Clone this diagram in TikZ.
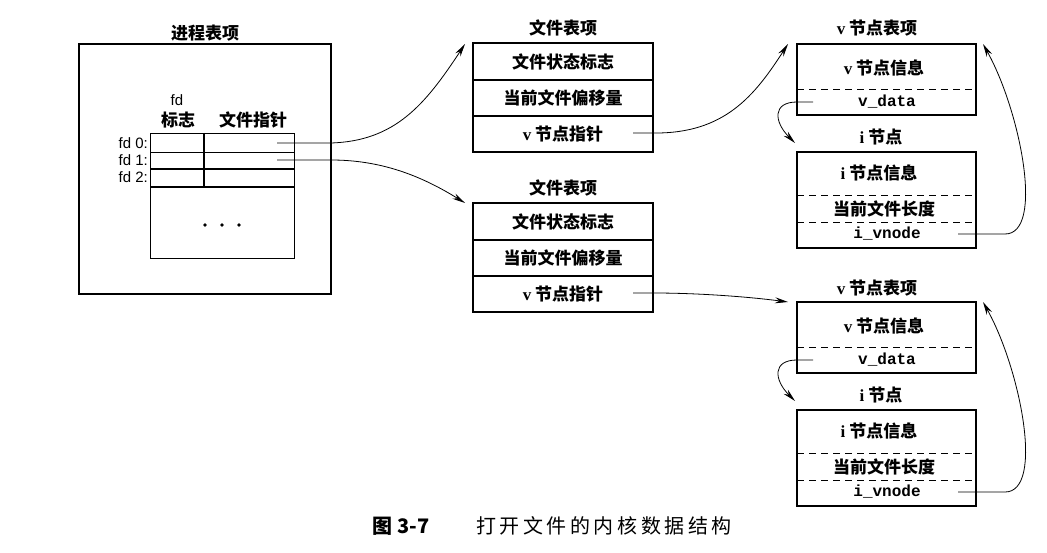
\documentclass[tikz,border=0pt]{standalone}
\usepackage{fontspec}
\setmainfont{Liberation Sans}
\newfontfamily\cjk{Noto Sans CJK SC}
\newfontfamily\capfont[LetterSpace=18]{Noto Sans CJK SC}
\newfontfamily\monof{Liberation Mono}
\newfontfamily\serf{Liberation Serif}
\usetikzlibrary{arrows.meta}
\tikzset{
  cjkfont/.style={font=\cjk\bfseries\fontsize{17}{20}\selectfont},
  row/.style={draw, line width=1.1pt, inner sep=0pt, outer sep=0pt, anchor=north west,
    minimum width=180pt, cjkfont},
  frame/.style={draw, line width=1.1pt, inner sep=0pt, outer sep=0pt, anchor=north west},
  lbl/.style={inner sep=0pt, cjkfont},
  code/.style={inner sep=0pt, font=\monof\bfseries\fontsize{16}{18}\selectfont},
  fdl/.style={inner sep=0pt, font=\fontsize{15}{17}\selectfont},
  dsh/.style={line width=0.9pt, dash pattern=on 7pt off 5pt},
  thinline/.style={line width=0.7pt},
  arr/.style={line width=0.8pt, -{Stealth[length=13pt,width=6pt]}},
}
\begin{document}
\begin{tikzpicture}[x=1pt,y=-1pt]
\useasboundingbox (0,0) rectangle (1047,553);

% ---------------- process table ----------------
\node[lbl] (proct) at (205,33) {进程表项};
\node[frame, minimum width=252pt, minimum height=250pt] (proc) at (79,44) {};
\node[fdl] (hfd) at (177,100) {fd};
\node[lbl] (hflag) at (178,120) {标志};
\node[lbl] (hptr) at (253,120) {文件指针};
\node[draw, thinline, inner sep=0pt, outer sep=0pt, anchor=north west,
      minimum width=144pt, minimum height=125pt] (fdtab) at (150,133) {};
\draw[thinline] (150,152) -- (294,152);
\draw[line width=1.1pt] (150,169) -- (294,169);
\draw[line width=1.1pt] (150,187) -- (294,187);
\draw[line width=1.1pt] (204,133) -- (204,187);
\node[fdl, anchor=east] (fd0) at (148,143) {fd 0:};
\node[fdl, anchor=east] (fd1) at (148,160) {fd 1:};
\node[fdl, anchor=east] (fd2) at (148,177) {fd 2:};
\fill (205,225) circle (1.8pt) (222,225) circle (1.8pt) (239,225) circle (1.8pt);
\coordinate (p0) at (277,143);
\coordinate (p1) at (277,160);

% ---------------- file table 1 ----------------
\node[lbl] (f1t) at (563,28) {文件表项};
\node[row, minimum height=37pt] (f1a) at (473,43) {文件状态标志};
\node[row, minimum height=36pt] (f1b) at (473,80) {当前文件偏移量};
\node[row, minimum height=36pt] (f1c) at (473,116) {{\serf v} 节点指针};
\coordinate (f1p) at (633,133);
\coordinate (f1in) at (465,44);

% ---------------- file table 2 ----------------
\node[lbl] (f2t) at (563,188) {文件表项};
\node[row, minimum height=37pt] (f2a) at (473,203) {文件状态标志};
\node[row, minimum height=36pt] (f2b) at (473,240) {当前文件偏移量};
\node[row, minimum height=36pt] (f2c) at (473,276) {{\serf v} 节点指针};
\coordinate (f2p) at (633,293);
\coordinate (f2in) at (465,203);

% ---------------- v-node 1 ----------------
\node[lbl] (v1t) at (877,28) {{\serf v} 节点表项};
\node[frame, minimum width=179pt, minimum height=71pt] (v1) at (797,44) {};
\draw[dsh] (797,89) -- (976,89);
\node[lbl] (v1info) at (884,68) {{\serf v} 节点信息};
\node[code] (v1data) at (887,102) {v\_data};
\coordinate (v1p) at (813,102);
\coordinate (v1in) at (788,44);
\coordinate (v1back) at (983,44);
\node[lbl] (i1t) at (881,137) {{\serf i} 节点};
\node[frame, minimum width=179pt, minimum height=96pt] (i1) at (797,152) {};
\draw[dsh] (797,195) -- (976,195);
\draw[dsh] (797,222) -- (976,222);
\node[lbl] (i1info) at (879,173) {{\serf i} 节点信息};
\node[lbl] (i1len) at (884,209) {当前文件长度};
\node[code] (i1vn) at (887,234) {i\_vnode};
\coordinate (i1in) at (795,143);
\coordinate (i1p) at (958,234);

% ---------------- v-node 2 ----------------
\node[lbl] (v2t) at (877,288) {{\serf v} 节点表项};
\node[frame, minimum width=179pt, minimum height=71pt] (v2) at (797,302) {};
\draw[dsh] (797,347) -- (976,347);
\node[lbl] (v2info) at (884,326) {{\serf v} 节点信息};
\node[code] (v2data) at (887,360) {v\_data};
\coordinate (v2p) at (813,360);
\coordinate (v2in) at (788,302);
\coordinate (v2back) at (983,302);
\node[lbl] (i2t) at (881,395) {{\serf i} 节点};
\node[frame, minimum width=179pt, minimum height=96pt] (i2) at (797,410) {};
\draw[dsh] (797,453) -- (976,453);
\draw[dsh] (797,480) -- (976,480);
\node[lbl] (i2info) at (879,431) {{\serf i} 节点信息};
\node[lbl] (i2len) at (884,467) {当前文件长度};
\node[code] (i2vn) at (887,492) {i\_vnode};
\coordinate (i2in) at (795,401);
\coordinate (i2p) at (958,492);

% ---------------- connectors ----------------
\draw[arr] (p0) -- (331,143) .. controls (395,141) and (425,105) .. (f1in);
\draw[arr] (p1) -- (331,160) .. controls (380,160) and (420,175) .. (f2in);
\draw[arr] (f1p) -- (653,133) .. controls (725,134) and (755,95) .. (v1in);
\draw[arr] (f2p) -- (653,293) .. controls (700,293) and (750,297) .. (v2in);
\draw[arr] (v1p) -- (797,102) .. controls (772,102) and (774,122) .. (i1in);
\draw[arr] (v2p) -- (797,360) .. controls (772,360) and (774,380) .. (i2in);
\draw[arr] (i1p) -- (1005,234) .. controls (1045,234) and (1020,110) .. (v1back);
\draw[arr] (i2p) -- (1005,492) .. controls (1045,492) and (1020,368) .. (v2back);

% ---------------- caption ----------------
\node[inner sep=0pt, font=\cjk\bfseries\fontsize{20}{24}\selectfont] (capa) at (401,526) {图 3-7};
\node[inner sep=0pt, font=\capfont\fontsize{20}{24}\selectfont] (capb) at (604,526) {打开文件的内核数据结构};
\end{tikzpicture}
\end{document}
